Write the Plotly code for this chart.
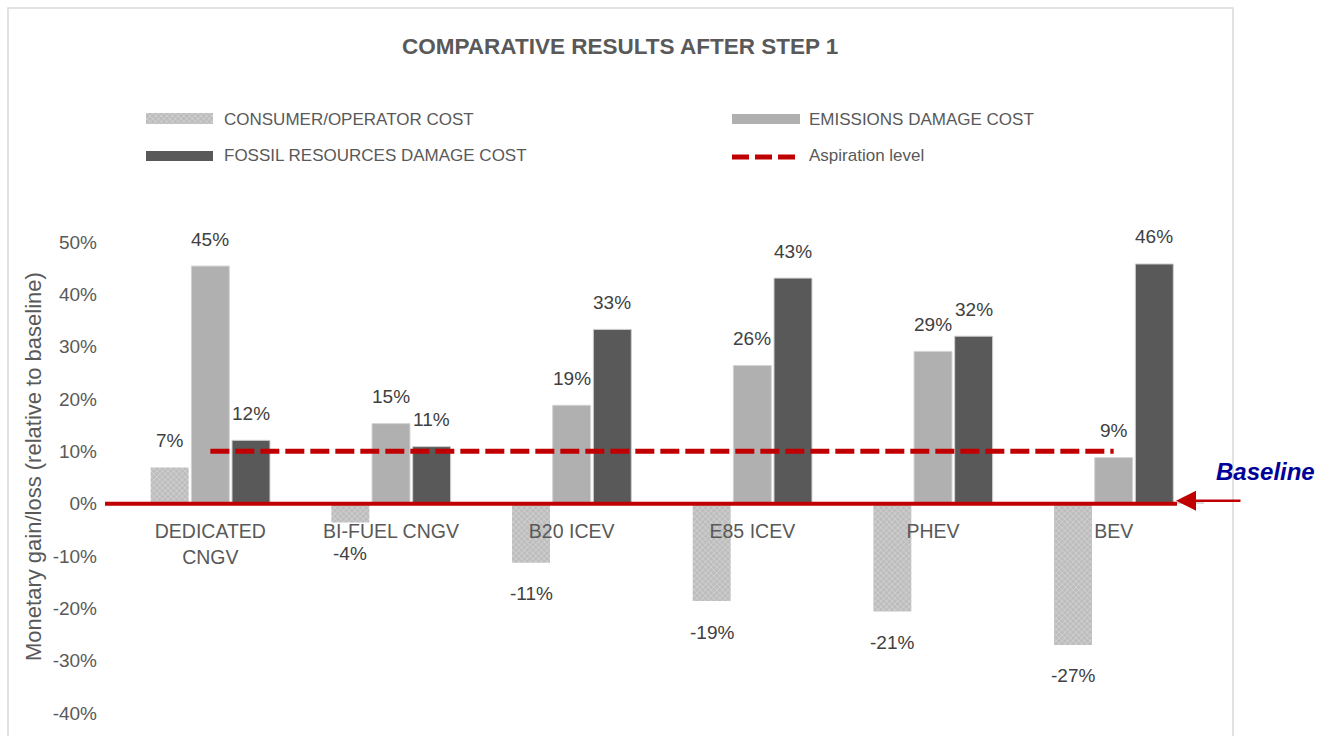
import plotly.graph_objects as go

# ---- data -------------------------------------------------------------
categories = ["DEDICATED<br>CNGV", "BI-FUEL CNGV", "B20 ICEV", "E85 ICEV", "PHEV", "BEV"]
consumer_cost = [0.069, -0.036, -0.113, -0.186, -0.206, -0.270]
emissions_cost = [0.454, 0.153, 0.188, 0.264, 0.291, 0.088]
fossil_cost = [0.121, 0.109, 0.333, 0.431, 0.320, 0.458]
aspiration_level = [0.10, 0.10, 0.10, 0.10, 0.10, 0.10]
y_ticks = [-0.4, -0.3, -0.2, -0.1, 0.0, 0.1, 0.2, 0.3, 0.4, 0.5]
y_tick_labels = ["-40%", "-30%", "-20%", "-10%", "0%", "10%", "20%", "30%", "40%", "50%"]

series_names = ["CONSUMER/OPERATOR COST", "EMISSIONS DAMAGE COST",
                "FOSSIL RESOURCES DAMAGE COST", "Aspiration level"]
title_text = "COMPARATIVE RESULTS AFTER STEP 1"
y_title = "Monetary gain/loss (relative to baseline)"

# ---- styling ----------------------------------------------------------
W, H = 1320, 736
FONT = "Liberation Sans, Arial, sans-serif"
TXT = "#595959"
LBL = "#404040"
RED = "#c00000"
C_CONS = "#bdbdbd"
C_EMIS = "#b0b0b0"
C_FOSS = "#595959"
checker = dict(shape="x", size=4, solidity=0.3, fgcolor="#f4f4f4", bgcolor=C_CONS)

# plot area in pixels
PL, PR, PT, PB = 120, 1204, 242, 713
BARGAP, GROUPGAP = 0.325, 0.066


def fx(px):
    return px / W


def fy(py):
    return 1 - py / H


fig = go.Figure()

fig.add_trace(go.Bar(x=categories, y=consumer_cost, name=series_names[0],
                     marker=dict(color=C_CONS, pattern=checker, line=dict(width=0)),
                     hoverinfo="skip"))
fig.add_trace(go.Bar(x=categories, y=emissions_cost, name=series_names[1],
                     marker=dict(color=C_EMIS, line=dict(color="#d4d4d4", width=1)),
                     hoverinfo="skip"))
fig.add_trace(go.Bar(x=categories, y=fossil_cost, name=series_names[2],
                     marker=dict(color=C_FOSS, line=dict(color="#cfcfcf", width=1)),
                     hoverinfo="skip"))
fig.add_trace(go.Scatter(x=categories, y=aspiration_level, name=series_names[3],
                         mode="lines", line=dict(color=RED, width=5, dash="19px,6px"),
                         hoverinfo="skip"))

# value labels above / below each bar
cat_px = (PR - PL) / len(categories)
slot = cat_px * (1 - BARGAP) / 3
annotations = []
for k, vals in enumerate([consumer_cost, emissions_cost, fossil_cost]):
    for cat, v in zip(categories, vals):
        annotations.append(dict(
            x=cat, y=v, xref="x", yref="y", xshift=(k - 1) * slot,
            yshift=27 if v >= 0 else -31, text=f"{v:.0%}", showarrow=False,
            xanchor="center", yanchor="middle",
            font=dict(family=FONT, size=19, color=LBL)))

# title
annotations.append(dict(x=fx(620), y=fy(46), xref="paper", yref="paper",
                        xanchor="center", yanchor="middle",
                        text=f"<b>{title_text}</b>", showarrow=False,
                        font=dict(family=FONT, size=22.5, color=TXT)))
# y axis title
annotations.append(dict(x=fx(33), y=fy(467), xref="paper", yref="paper",
                        xanchor="center", yanchor="middle",
                        text=y_title, textangle=-90, showarrow=False,
                        font=dict(family=FONT, size=22, color=TXT)))
# legend texts
legend_pos = [(222, 119), (807, 119), (222, 156), (807, 156)]
for name, (lx, ly) in zip(series_names, legend_pos):
    annotations.append(dict(x=fx(lx), y=fy(ly), xref="paper", yref="paper",
                            xanchor="left", yanchor="middle", text=name, showarrow=False,
                            font=dict(family=FONT, size=17, color=TXT)))
# baseline call-out
annotations.append(dict(x=fx(1176), y=0, xref="paper", yref="y", yshift=3,
                        ax=66, ay=0, text="", showarrow=True, arrowhead=2,
                        arrowsize=1.6, arrowwidth=2.5, arrowcolor=RED, standoff=0))
annotations.append(dict(x=fx(1265), y=fy(471), xref="paper", yref="paper",
                        xanchor="center", yanchor="middle",
                        text="<b><i>Baseline</i></b>", showarrow=False,
                        font=dict(family=FONT, size=24, color="#000099")))

shapes = [
    # chart frame
    dict(type="rect", xref="paper", yref="paper", x0=fx(8), x1=fx(1233),
         y0=fy(780), y1=fy(8), line=dict(color="#d9d9d9", width=1.5), layer="below"),
    # baseline at 0%
    dict(type="line", xref="paper", yref="y", x0=fx(105), x1=fx(1177), y0=0, y1=0,
         line=dict(color=RED, width=4), layer="above"),
]

# legend swatches, drawn on a pixel-space overlay
fig.add_trace(go.Scatter(x=[146, 213, 213, 146], y=[113, 113, 124, 124], fill="toself",
                         fillpattern=checker, fillcolor=C_CONS, mode="none",
                         xaxis="x2", yaxis="y2", showlegend=False, hoverinfo="skip"))
fig.add_trace(go.Scatter(x=[732, 800, 800, 732], y=[114, 114, 124, 124], fill="toself",
                         fillcolor=C_EMIS, mode="none",
                         xaxis="x2", yaxis="y2", showlegend=False, hoverinfo="skip"))
fig.add_trace(go.Scatter(x=[146, 213, 213, 146], y=[151, 151, 161, 161], fill="toself",
                         fillcolor=C_FOSS, mode="none",
                         xaxis="x2", yaxis="y2", showlegend=False, hoverinfo="skip"))
fig.add_trace(go.Scatter(x=[732, 795], y=[157, 157], mode="lines",
                         line=dict(color=RED, width=5, dash="17px,6px"),
                         xaxis="x2", yaxis="y2", showlegend=False, hoverinfo="skip"))

fig.update_layout(
    width=W, height=H,
    margin=dict(l=0, r=0, t=0, b=0, autoexpand=False),
    paper_bgcolor="white", plot_bgcolor="rgba(0,0,0,0)",
    barmode="group", bargap=BARGAP, bargroupgap=GROUPGAP,
    showlegend=False,
    font=dict(family=FONT, color=TXT),
    xaxis=dict(domain=[fx(PL), fx(PR)], anchor="free", position=fy(503),
               automargin=False,
               showline=True, linecolor="#d9d9d9", linewidth=1.5,
               showgrid=False, zeroline=False, ticks="", ticklabelstandoff=11,
               tickfont=dict(family=FONT, size=19.5, color=TXT)),
    yaxis=dict(domain=[fy(PB), fy(PT)], range=[-0.4, 0.5],
               tickvals=y_ticks, ticktext=y_tick_labels, automargin=False,
               showgrid=False, zeroline=False, showline=False,
               ticks="", ticklabelstandoff=22,
               tickfont=dict(family=FONT, size=19, color=TXT)),
    xaxis2=dict(domain=[0, 1], range=[0, W], visible=False, anchor="y2",
                automargin=False),
    yaxis2=dict(domain=[0, 1], range=[H, 0], visible=False, anchor="x2",
                automargin=False),
    annotations=annotations,
    shapes=shapes,
)

fig.write_html("out.html")
